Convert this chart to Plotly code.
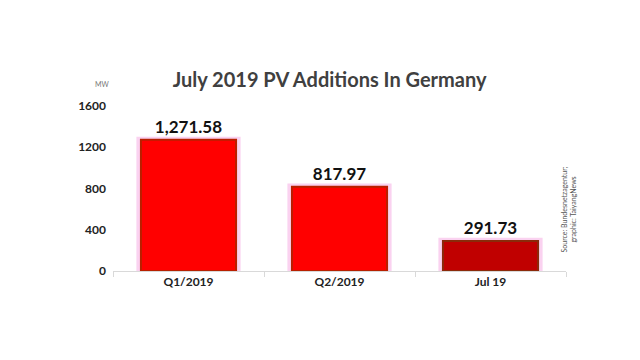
import plotly.graph_objects as go

categories = ["Q1/2019", "Q2/2019", "Jul 19"]
values = [1271.58, 817.97, 291.73]
fill_colors = ["#FF0000", "#FF0000", "#C00000"]
edge_colors = ["#B82000", "#B82000", "#8B2A0A"]
y_ticks = [0, 400, 800, 1200, 1600]

W, H = 640, 360
L, R, T, B = 113, 74, 106, 89

fig = go.Figure()
# pink glow behind bars
fig.add_trace(go.Bar(
    x=categories, y=[v + 30 for v in values], width=0.69,
    marker=dict(color="#FAD2F0", line=dict(width=0)),
    hoverinfo="skip", showlegend=False,
))
fig.add_trace(go.Bar(
    x=categories, y=values, width=0.63,
    marker=dict(color=fill_colors, line=dict(color=edge_colors, width=2)),
    texttemplate="<b>%{y:,.2f}</b>", textposition="outside",
    textfont=dict(family="Lato", size=17, color="#111111"),
    cliponaxis=False, showlegend=False,
))

fig.update_layout(
    width=W, height=H,
    barmode="overlay",
    margin=dict(l=L, r=R, t=T, b=B),
    paper_bgcolor="white", plot_bgcolor="white",
    font=dict(family="Lato", color="#222222"),
    title=dict(text="<b>July 2019 PV Additions In Germany</b>", x=0.515, xanchor="center",
               y=1 - 80 / H, yanchor="middle", font=dict(family="Lato", size=20, color="#404040")),
    xaxis=dict(showline=True, linecolor="#D9D9D9", linewidth=1, ticks="outside",
               tickson="boundaries", tickcolor="#D9D9D9", ticklen=5,
               tickfont=dict(family="Lato", size=12, color="#222222", weight="bold"),
               showgrid=False, automargin=False),
    yaxis=dict(range=[0, 1600], tickvals=y_ticks, ticktext=[str(t) for t in y_ticks],
               showgrid=False, zeroline=False, showline=False, ticks="",
               tickfont=dict(family="Lato", size=12, color="#222222", weight="bold"),
               ticklabelstandoff=6, automargin=False),
    annotations=[
        dict(text="MW", xref="paper", yref="paper",
             x=(93 - L) / (W - L - R), y=(H - B - 78) / (H - T - B), showarrow=False,
             font=dict(size=7, color="#777777")),
        dict(text="Source: Bundesnetzagentur;<br>graphic: TaiyangNews", textangle=-90,
             xref="paper", yref="paper", x=(578 - L) / (W - L - R), y=(H - B - 210) / (H - T - B),
             showarrow=False, font=dict(family="Lato", size=7, color="#555555")),
    ],
)

fig.write_html("out.html", config={"displayModeBar": False},
               post_script="document.body.style.margin='0';")
